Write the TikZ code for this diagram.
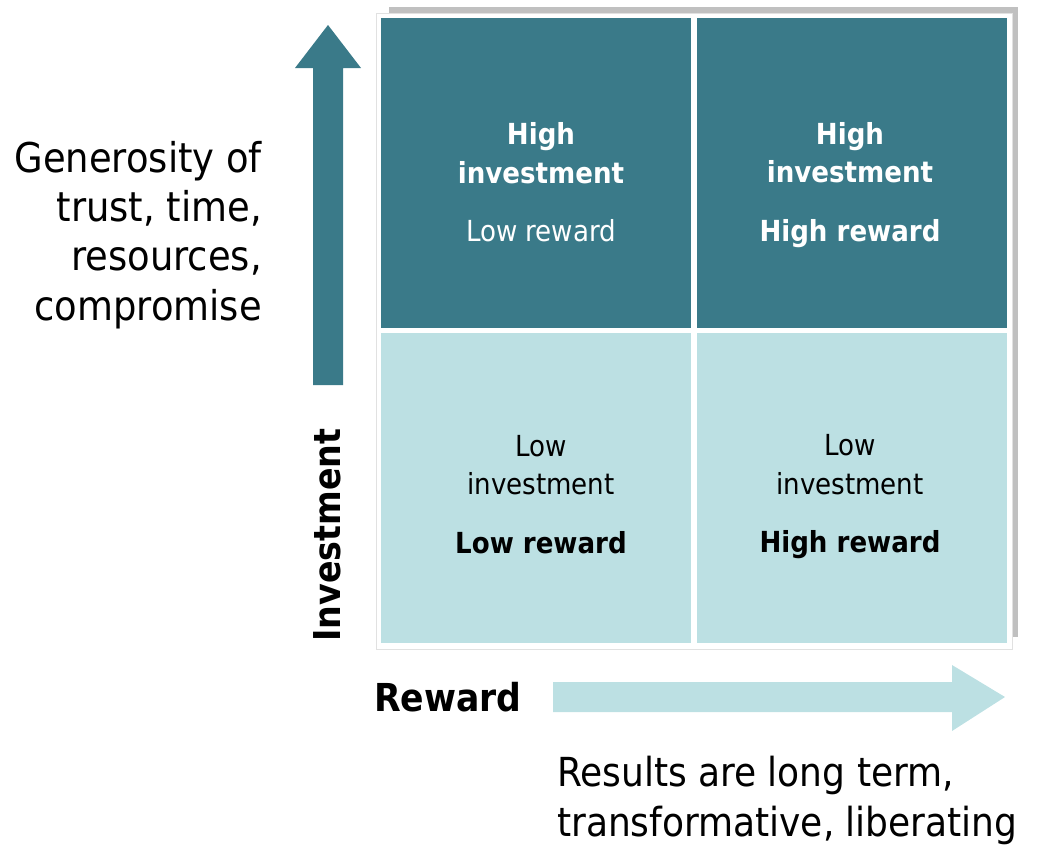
\documentclass[tikz,border=0pt]{standalone}
\usepackage{fontspec}
\setmainfont{DejaVu Sans Condensed}
\definecolor{darkteal}{RGB}{58,122,137}
\definecolor{lightteal}{RGB}{188,224,227}
\definecolor{shadowgray}{RGB}{192,192,192}
\definecolor{framegray}{RGB}{225,225,225}
\begin{document}
\begin{tikzpicture}[x=1pt,y=-1pt,
  cell/.style={draw=none,minimum width=310pt,minimum height=310pt,inner sep=0pt,outer sep=0pt},
  darkcell/.style={cell,fill=darkteal},
  lightcell/.style={cell,fill=lightteal},
  celltext/.style={align=center,font=\fontsize{29}{38.5}\selectfont,inner sep=0pt},
  axistext/.style={font=\fontsize{41}{49.3}\selectfont,inner sep=0pt},
  axislabel/.style={font=\fontsize{37}{42}\selectfont\bfseries,inner sep=0pt}
]
\useasboundingbox (0,0) rectangle (1042,846);
% shadow and frame
\fill[shadowgray] (389,7) rectangle (1018,637);
\filldraw[fill=white,draw=framegray,line width=1pt] (376,13) rectangle (1012,649);
% cells
\node[darkcell] (c11) at (536,173) {};
\node[darkcell] (c12) at (852,173) {};
\node[lightcell] (c21) at (536,488) {};
\node[lightcell] (c22) at (852,488) {};
% cell texts
\node[celltext,text=white] (t11) at ([shift={(5,12)}]c11.center)
  {\textbf{High}\\\textbf{investment}\\[20pt]Low reward\vphantom{g}};
\node[celltext,text=white] (t12) at ([shift={(-2,12)}]c12.center)
  {\textbf{High}\\\textbf{investment}\\[20pt]\textbf{High reward}};
\node[celltext,text=black] (t21) at ([shift={(5,9)}]c21.center)
  {Low\\investment\\[20pt]\textbf{Low reward}\vphantom{g}};
\node[celltext,text=black] (t22) at ([shift={(-2,9)}]c22.center)
  {Low\\investment\\[20pt]\textbf{High reward}};
% up arrow
\fill[darkteal] (313,385) -- (313,68) -- (295,68) -- (328,25) -- (361,68) -- (343,68) -- (343,385) -- cycle;
% right arrow
\fill[lightteal] (553,682) -- (952,682) -- (952,665) -- (1005,697) -- (952,731) -- (952,712) -- (553,712) -- cycle;
% axis texts
\node[axistext,align=right,anchor=east] (gen) at (262,235)
  {Generosity of\\trust, time,\\resources,\\compromise};
\node[axistext,font=\fontsize{40}{50}\selectfont,align=left,anchor=west] (res) at (557,800)
  {Results are long term,\\transformative, liberating};
\node[axislabel,rotate=90] (inv) at (327,535) {Investment};
\node[axislabel,font=\fontsize{38.5}{42}\selectfont\bfseries] (rew) at (448,697) {Reward};
\end{tikzpicture}
\end{document}
